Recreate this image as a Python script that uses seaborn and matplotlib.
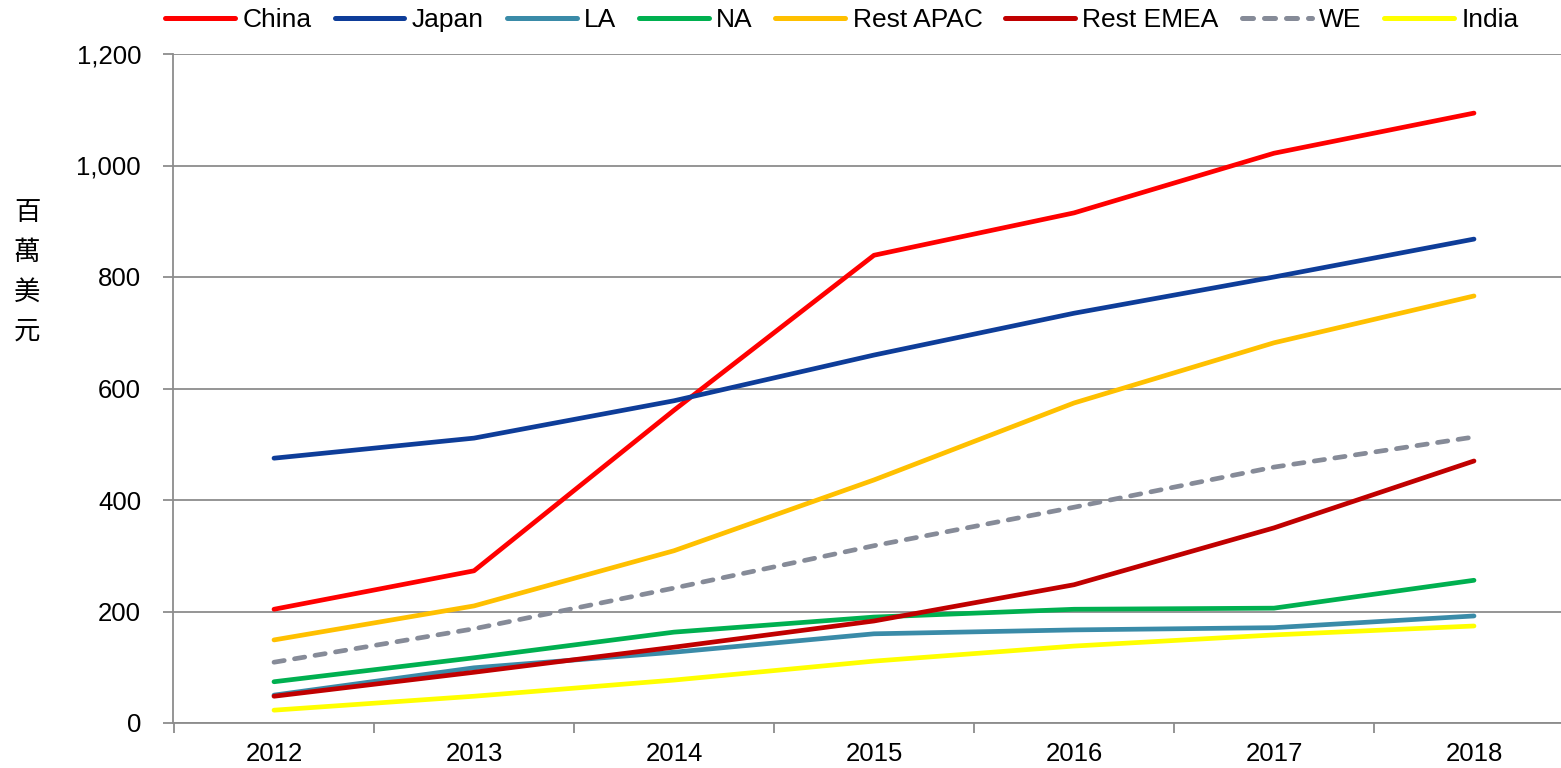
import numpy as np
import pandas as pd
import seaborn as sns
import matplotlib.pyplot as plt

# data (million USD)
years = ['2012', '2013', '2014', '2015', '2016', '2017', '2018']
regions = ['China', 'Japan', 'LA', 'NA', 'Rest APAC', 'Rest EMEA', 'WE', 'India']
china = [204, 273, 561, 839, 915, 1022, 1094]
japan = [475, 511, 578, 660, 735, 800, 868]
la = [50, 99, 127, 160, 167, 171, 192]
na = [74, 117, 163, 190, 204, 206, 256]
rest_apac = [149, 210, 309, 436, 574, 682, 766]
rest_emea = [48, 91, 136, 183, 248, 350, 470]
we = [109, 169, 242, 318, 387, 459, 513]
india = [23, 48, 77, 111, 138, 158, 174]

series = [china, japan, la, na, rest_apac, rest_emea, we, india]
colors = ['#FF0000', '#0E3D99', '#3A8BA8', '#00B050', '#FFC000', '#C00000', '#868B98', '#FFFF00']

rows = []
for name, vals in zip(regions, series):
    for i, v in enumerate(vals):
        rows.append({'year': i, 'region': name, 'value': v})
df = pd.DataFrame(rows)

sns.set_theme(style='white')
plt.rcParams['font.family'] = ['Liberation Sans', 'DejaVu Sans']
plt.rcParams['text.color'] = 'black'
plt.rcParams['xtick.color'] = 'black'
plt.rcParams['ytick.color'] = 'black'

fig = plt.figure(figsize=(15.61, 7.68), dpi=100)
ax = fig.add_axes([173 / 1561, 1 - 723 / 768, 1 - 173 / 1561, (723 - 54) / 768])

palette = dict(zip(regions, colors))
dashes = {r: '' for r in regions}
dashes['WE'] = (2.2, 2.2)

sns.lineplot(data=df, x='year', y='value', hue='region', style='region',
             hue_order=regions, style_order=regions, palette=palette,
             dashes=dashes, linewidth=3.4, ax=ax)
for line in ax.lines:
    line.set_solid_capstyle('round')
    line.set_dash_capstyle('round')

ax.set_xlim(-0.505, 6.435)
ax.set_ylim(0, 1200)
ax.set_yticks(np.arange(0, 1201, 200))
ax.set_yticklabels([f'{v:,}' for v in range(0, 1201, 200)])
ax.set_xticks(range(len(years)))
ax.set_xticklabels(years)
ax.set_xticks(np.arange(-0.5, 6.5, 1), minor=True)
ax.tick_params(axis='x', which='major', bottom=True, length=0, pad=14, labelsize=18.5)
ax.tick_params(axis='x', which='minor', bottom=True, length=7, width=1.3,
               color='#8C8C8C', direction='out')
ax.tick_params(axis='y', left=True, length=7, width=1.3, color='#8C8C8C',
               direction='out', labelsize=18.5, pad=16)
ax.set_xlabel('')
ax.set_ylabel('')

ax.yaxis.grid(True, color='#8C8C8C', linewidth=1.3)
ax.set_axisbelow(True)
for side in ['top', 'right']:
    ax.spines[side].set_visible(False)
for side in ['left', 'bottom']:
    ax.spines[side].set_color('#8C8C8C')
    ax.spines[side].set_linewidth(1.3)

handles, labels = ax.get_legend_handles_labels()
ax.legend_.remove()
leg = fig.legend(handles, labels, loc='center', bbox_to_anchor=(842 / 1561, 1 - 20 / 768),
                 ncol=8, frameon=False, handlelength=2.65, handletextpad=0.27,
                 columnspacing=0.87, prop={'size': 19})
for h in leg.legend_handles:
    h.set_linewidth(3.6)
    h.set_solid_capstyle('round')
    h.set_dash_capstyle('round')

fig.text(27 / 1561, 1 - 272 / 768, '百\n萬\n美\n元', ha='center', va='center',
         fontsize=19, linespacing=1.6, family=['Noto Sans CJK TC', 'DejaVu Sans'])

fig.savefig('out.png', dpi=100)
